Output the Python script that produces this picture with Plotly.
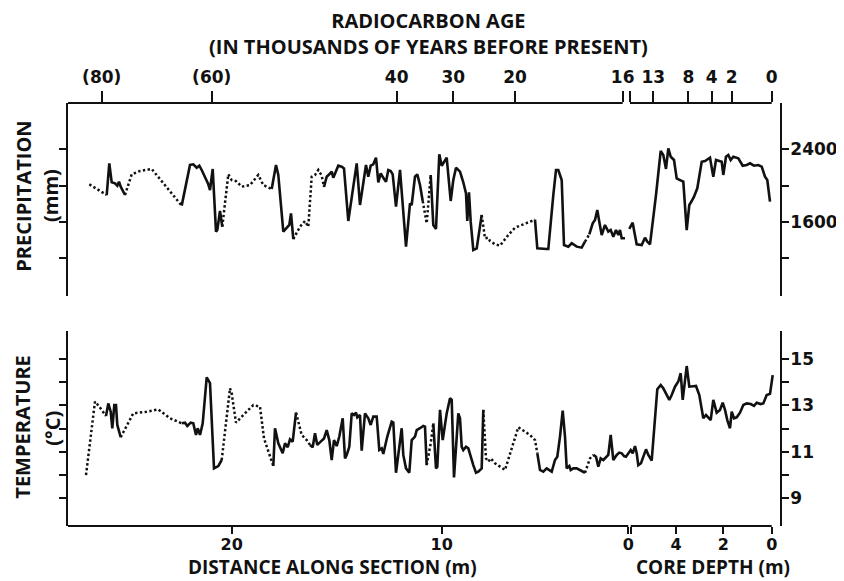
import plotly.graph_objects as go

# ---------------- data ----------------
# Horizontal coordinate: position along the composite record (section + core),
# in plot units; tick labels below/above give distance, core depth and age.
precip_pos = [21.3, 38.7, 41.3, 43.7, 47.0, 49.3, 51.0, 52.7, 57.0, 63.7,
              72.0, 83.7, 113.7, 122.0, 125.3, 128.7, 131.3, 133.7, 140.3, 142.0,
              144.7, 148.0, 149.3, 152.0, 154.3, 160.3, 163.7, 168.0, 173.7, 182.0,
              190.3, 195.3, 203.7, 208.0, 210.3, 215.3, 221.3, 223.0, 225.3, 232.0,
              237.0, 240.3, 243.7, 247.0, 250.3, 253.7, 256.0, 258.7, 261.3, 263.7,
              265.3, 267.0, 270.3, 273.7, 276.0, 280.3, 284.7, 288.7, 292.0, 295.3,
              298.0, 300.3, 302.7, 305.3, 308.0, 310.3, 312.7, 315.3, 318.0, 320.3,
              322.7, 324.7, 328.0, 332.0, 338.0, 342.0, 343.7, 347.0, 349.3, 352.0,
              354.7, 358.7, 362.7, 365.3, 368.0, 371.3, 373.7, 376.0, 378.7, 382.7,
              385.3, 388.0, 392.0, 395.3, 398.0, 399.3, 401.0, 402.7, 405.3, 408.7,
              413.7, 417.0, 420.3, 422.0, 427.0, 432.0, 440.3, 447.0, 467.0, 469.3,
              478.7, 480.3, 485.3, 488.0, 490.3, 493.7, 496.0, 500.3, 503.7, 508.7,
              513.7, 517.0, 521.3, 524.7, 527.0, 529.3, 531.3, 533.7, 537.0, 540.3,
              542.7, 545.3, 548.0, 550.3, 552.0, 553.7, 557.0, 561.3, 564.7, 566.3,
              568.7, 573.7, 577.0, 579.3, 582.0, 588.0, 592.7, 595.3, 598.0, 600.3,
              602.7, 606.0, 608.7, 612.0, 615.3, 618.7, 621.3, 623.7, 626.0, 629.3,
              633.7, 637.0, 642.0, 645.3, 648.0, 653.7, 655.3, 658.0, 660.3, 662.7,
              665.3, 670.3, 674.7, 678.7, 682.0, 686.0, 690.3, 693.7, 697.0, 699.3,
              702.0]
precip_mm = [2014, 1896, 2245, 2036, 2025, 1999, 2043, 1988, 1896, 2124,
             2161, 2183, 1779, 2227, 2234, 2197, 2219, 2172, 2014, 1951,
             2183, 1492, 1510, 1720, 1547, 2124, 2061, 2050, 1988, 2006,
             2117, 2006, 1962, 2227, 2117, 1492, 1566, 1694, 1411, 1547,
             1610, 1547, 2098, 2117, 2172, 2109, 1984, 2098, 2124, 2153,
             2087, 2135, 2219, 2208, 2190, 1610, 1933, 2245, 1786, 2061,
             2227, 2098, 2219, 2234, 2307, 2036, 2135, 2087, 2043, 2172,
             2161, 2124, 1768, 2172, 1327, 1804, 1786, 2098, 2124, 2006,
             1830, 1584, 2117, 1566, 1521, 2344, 2219, 2263, 2307, 1830,
             2061, 2197, 2153, 2036, 1914, 1610, 1925, 1602, 1290, 1308,
             1676, 1419, 1426, 1389, 1353, 1338, 1455, 1536, 1624, 1308,
             1301, 1301, 1896, 2172, 2172, 2061, 1345, 1327, 1364, 1327,
             1316, 1382, 1463, 1584, 1621, 1731, 1602, 1455, 1566, 1492,
             1510, 1437, 1510, 1455, 1510, 1419, 1419, 1522, 1591, 1492,
             1353, 1345, 1426, 1382, 1353, 1896, 2381, 2337, 2183, 2410,
             2318, 2282, 2080, 2061, 2043, 1510, 1786, 1830, 1878, 1970,
             2263, 2271, 2307, 2098, 2282, 2263, 2117, 2318, 2337, 2282,
             2318, 2300, 2219, 2227, 2245, 2219, 2227, 2208, 2098, 2061,
             1823]
# segment type after each point: "m" measured, "i" interpolated, "-" break
precip_runs = [("i", 1), ("m", 7), ("i", 4), ("m", 12), ("i", 8), ("m", 6),
               ("i", 8), ("m", 34), ("i", 2), ("m", 18), ("i", 8), ("m", 13),
               ("i", 1), ("m", 14), ("-", 1), ("m", 44)]

temp_pos = [18.0, 27.0, 31.3, 38.0, 40.3, 42.7, 44.3, 46.3, 48.0, 49.3,
            52.7, 65.3, 78.7, 90.3, 102.0, 113.7, 117.0, 119.3, 122.7, 125.3,
            128.0, 129.7, 132.0, 134.7, 138.7, 142.0, 146.0, 150.3, 153.7, 162.0,
            163.7, 168.0, 175.3, 185.3, 192.0, 196.0, 205.3, 207.0, 210.3, 214.7,
            217.0, 219.7, 222.0, 224.7, 228.0, 233.7, 238.7, 242.0, 244.7, 247.0,
            249.3, 252.7, 256.0, 258.7, 261.3, 263.7, 266.0, 268.7, 271.3, 274.7,
            277.0, 278.7, 281.3, 283.7, 286.0, 288.0, 289.3, 292.0, 293.7, 297.0,
            300.3, 302.7, 305.3, 308.7, 311.3, 313.7, 315.3, 319.3, 323.7, 325.3,
            328.0, 330.3, 332.0, 333.7, 335.3, 338.0, 341.3, 343.7, 347.0, 348.7,
            352.0, 355.3, 357.0, 358.7, 362.7, 365.3, 368.0, 369.3, 372.0, 374.7,
            376.0, 378.7, 382.0, 383.7, 386.0, 388.7, 390.3, 392.0, 393.7, 395.3,
            398.0, 400.3, 402.0, 405.3, 408.0, 410.3, 413.7, 415.3, 418.0, 420.3,
            422.7, 427.0, 432.0, 437.0, 450.3, 462.0, 467.0, 469.3, 472.0, 475.3,
            478.7, 483.7, 487.0, 489.3, 492.0, 494.7, 497.0, 498.7, 501.3, 502.7,
            505.3, 508.7, 513.7, 517.0, 522.0, 525.3, 528.0, 530.3, 532.7, 535.3,
            538.0, 540.3, 542.7, 545.3, 548.7, 551.3, 553.7, 556.0, 558.0, 560.3,
            562.7, 564.7, 567.0, 568.7, 570.3, 573.0, 575.3, 578.0, 580.3, 583.7,
            589.3, 592.7, 595.3, 601.3, 603.7, 607.0, 610.3, 612.7, 614.7, 617.0,
            618.7, 621.3, 624.7, 628.0, 631.3, 635.3, 638.0, 640.3, 642.7, 645.3,
            648.7, 652.0, 654.7, 657.0, 659.3, 662.0, 663.7, 666.0, 668.7, 672.0,
            675.3, 678.7, 682.7, 686.0, 688.7, 692.7, 695.3, 698.7, 702.0, 704.7]
temp_c = [10.00, 13.17, 12.95, 12.55, 13.09, 12.73, 12.01, 13.02, 13.02, 12.16,
          11.63, 12.66, 12.73, 12.83, 12.45, 12.23, 12.26, 12.12, 12.26, 12.23,
          11.73, 12.02, 11.73, 12.23, 14.21, 13.96, 10.29, 10.39, 10.65, 13.74,
          13.52, 12.26, 12.59, 13.02, 12.95, 11.58, 10.39, 12.02, 11.37, 10.94,
          11.37, 11.20, 11.54, 11.44, 12.69, 11.73, 11.51, 11.30, 11.20, 11.80,
          11.30, 11.44, 11.58, 11.94, 11.51, 10.65, 11.51, 11.25, 11.66, 12.45,
          10.72, 10.87, 11.22, 12.66, 12.59, 12.69, 12.49, 12.59, 11.05, 12.66,
          12.45, 12.16, 12.52, 12.52, 11.08, 11.15, 10.91, 11.66, 12.30, 12.26,
          10.10, 10.87, 11.58, 12.02, 10.87, 10.29, 10.10, 11.51, 11.66, 11.94,
          12.02, 12.12, 12.09, 10.43, 11.37, 12.23, 10.29, 10.36, 12.81, 11.51,
          11.87, 12.66, 13.31, 13.24, 9.90, 11.94, 12.66, 12.45, 11.22, 11.08,
          11.22, 11.15, 10.87, 10.43, 10.10, 10.15, 10.29, 12.81, 10.72, 10.58,
          10.72, 10.51, 10.36, 10.22, 12.06, 11.73, 11.51, 10.94, 10.22, 10.15,
          10.29, 10.15, 10.65, 10.79, 11.66, 12.78, 11.66, 10.29, 10.39, 10.22,
          10.29, 10.29, 10.19, 10.10, 10.72, 10.87, 10.79, 10.36, 10.72, 10.65,
          10.79, 10.87, 11.73, 10.65, 10.87, 10.97, 10.94, 10.82, 10.79, 10.94,
          11.08, 10.94, 11.25, 10.94, 10.43, 10.51, 10.79, 11.11, 10.87, 10.62,
          13.70, 13.88, 13.74, 13.24, 13.45, 13.81, 14.03, 14.39, 13.24, 14.21,
          14.70, 13.81, 13.81, 13.84, 13.45, 12.45, 12.59, 12.49, 12.37, 13.24,
          12.69, 12.81, 13.12, 12.81, 12.37, 12.02, 12.73, 12.45, 12.49, 12.69,
          13.02, 13.09, 13.06, 12.98, 13.12, 13.06, 13.09, 13.45, 13.50, 14.31]
temp_runs = [("i", 3), ("m", 7), ("i", 5), ("m", 13), ("i", 8), ("m", 8),
             ("i", 3), ("m", 46), ("i", 2), ("m", 22), ("i", 10), ("m", 16),
             ("i", 2), ("m", 65)]

# top axis: radiocarbon age (thousands of years BP)
age_tick_pos = [33.7, 143.7, 328.7, 385.3, 447.0, 554.7, 562.0, 585.3, 620.3, 643.7, 663.7, 703.7]
age_tick_text = ["(80)", "(60)", "40", "30", "20", "16", "", "13", "8", "4", "2", "0"]
# bottom axis: distance along section (m) and core depth (m)
dist_tick_pos = [163.7, 373.7, 560.3, 562.7, 608.0, 655.3, 703.7]
dist_tick_text = ["20", "10", "0", "", "4", "2", "0"]
section_span = [0, 560.3]
core_span = [562.7, 703.7]
section_span_top = [0, 554.7]
core_span_top = [562.0, 703.7]

precip_ticks = [1200, 1600, 2000, 2400]
precip_tick_text = ["", "1600", "", "2400"]
temp_ticks = [9, 10, 11, 12, 13, 14, 15]
temp_tick_text = ["9", "", "11", "", "13", "", "15"]


# ---------------- helpers ----------------
def split_runs(pos, val, runs):
    kinds = []
    for k, n in runs:
        kinds += [k] * n
    out = {"m": ([], []), "i": ([], [])}
    i = 0
    n = len(pos)
    while i < n - 1:
        k = kinds[i]
        j = i
        while j < n - 1 and kinds[j] == k:
            j += 1
        if k in out:
            xs, ys = out[k]
            xs += list(pos[i:j + 1]) + [None]
            ys += list(val[i:j + 1]) + [None]
        i = j
    return out


INK = "#111111"
TICKFONT = dict(family="DejaVu Sans", size=17, color=INK, weight="bold")
BOTTICKFONT = dict(family="DejaVu Sans", size=16, color=INK, weight="bold")
TITLEFONT = dict(family="Open Sans", size=20, color=INK, weight="bold")
BOTTITLEFONT = dict(family="Open Sans", size=19, color=INK, weight="bold")

fig = go.Figure()

for pos, val, runs, xa, ya in [(precip_pos, precip_mm, precip_runs, "x", "y"),
                                (temp_pos, temp_c, temp_runs, "x2", "y2")]:
    seg = split_runs(pos, val, runs)
    fig.add_trace(go.Scatter(x=seg["m"][0], y=seg["m"][1], mode="lines",
                             line=dict(color=INK, width=2.6), xaxis=xa, yaxis=ya,
                             connectgaps=False, hoverinfo="skip"))
    fig.add_trace(go.Scatter(x=seg["i"][0], y=seg["i"][1], mode="lines",
                             line=dict(color=INK, width=2.5, dash="2.4px,2.4px"),
                             xaxis=xa, yaxis=ya, connectgaps=False, hoverinfo="skip"))

xr = [0, 712]
top_lo = 0.5437
bot_hi = 0.461

# page body adds an 8px offset: figure is 8px smaller so it lands on the target pixels
fig.update_layout(
    width=836, height=573,
    margin=dict(l=60, r=64, t=95, b=55, autoexpand=False),
    paper_bgcolor="white", plot_bgcolor="white",
    showlegend=False,
    xaxis=dict(domain=[0, 1], range=xr, anchor="y", side="top",
               tickmode="array", tickvals=age_tick_pos, ticktext=age_tick_text,
               ticks="outside", ticklen=11, tickwidth=1.6, tickcolor=INK,
               showline=False, showgrid=False, zeroline=False, automargin=False,
               tickfont=TICKFONT, ticklabelstandoff=1),
    xaxis2=dict(domain=[0, 1], range=xr, anchor="y2", side="bottom",
                tickmode="array", tickvals=dist_tick_pos, ticktext=dist_tick_text,
                ticks="outside", ticklen=7, tickwidth=1.6, tickcolor=INK,
                showline=False, showgrid=False, zeroline=False, automargin=False,
                tickfont=BOTTICKFONT, ticklabelstandoff=-3),
    yaxis=dict(domain=[top_lo, 1], range=[783, 2910], anchor="x", side="right",
               tickmode="array", tickvals=precip_ticks, ticktext=precip_tick_text,
               ticks="outside", ticklen=7, tickwidth=1.6, tickcolor=INK,
               showline=True, linewidth=1.8, linecolor=INK, mirror="ticks",
               showgrid=False, zeroline=False, tickfont=TICKFONT, automargin=False,
               ticklabelstandoff=-2),
    yaxis2=dict(domain=[0, bot_hi], range=[7.806, 16.21], anchor="x2", side="right",
                tickmode="array", tickvals=temp_ticks, ticktext=temp_tick_text,
                ticks="outside", ticklen=7, tickwidth=1.6, tickcolor=INK,
                showline=True, linewidth=1.8, linecolor=INK, mirror="ticks",
                showgrid=False, zeroline=False, tickfont=TICKFONT, automargin=False,
                ticklabelstandoff=-2),
)

# broken horizontal axis lines (section | core)
for span, yv in [(section_span_top, 1), (core_span_top, 1), (section_span, 0), (core_span, 0)]:
    fig.add_shape(type="line", xref="x", yref="paper", x0=span[0], x1=span[1],
                  y0=yv, y1=yv, line=dict(color=INK, width=1.8))


def px_x(x):
    return (x - 68) / 712.0


def px_y(y):
    return (526 - y) / 423.0


annots = [
    ("RADIOCARBON AGE<br>(IN THOUSANDS OF YEARS BEFORE PRESENT)", 428, 33, 0, "middle", TITLEFONT),
    ("PRECIPITATION", 24, 196.7, -90, "middle", TITLEFONT),
    ("(mm)", 50, 196, -90, "middle", TITLEFONT),
    ("TEMPERATURE", 23, 426.7, -90, "middle", TITLEFONT),
    ("(°C)", 51.7, 428, -90, "middle", TITLEFONT),
    ("DISTANCE ALONG SECTION (m)", 332, 581, 0, "bottom", BOTTITLEFONT),
    ("CORE DEPTH (m)", 713, 581, 0, "bottom", BOTTITLEFONT),
]
for text, xp, yp, ang, ya, fnt in annots:
    fig.add_annotation(text=text, xref="paper", yref="paper", x=px_x(xp), y=px_y(yp),
                       xanchor="center", yanchor=ya, showarrow=False, borderpad=0,
                       textangle=ang, font=fnt)

fig.write_html("out.html")
